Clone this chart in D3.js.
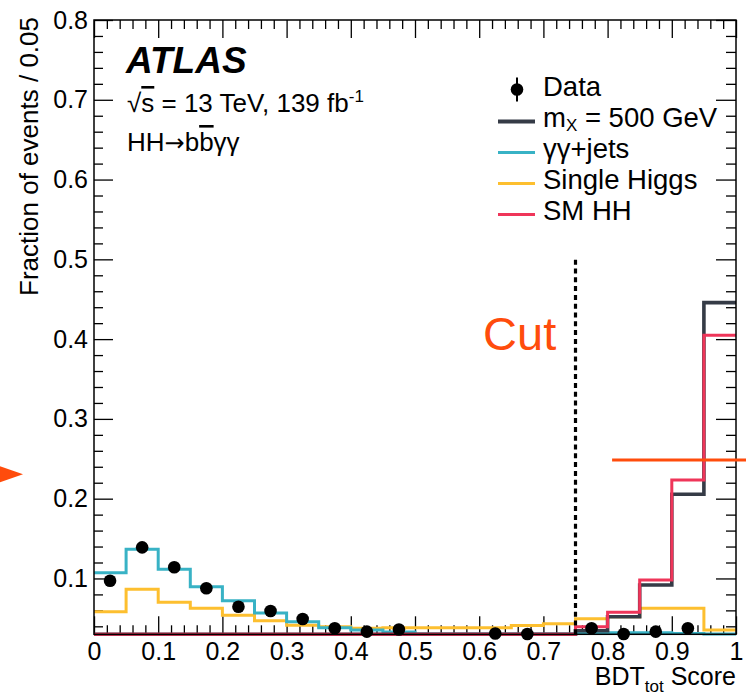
<!DOCTYPE html>
<html>
<head>
<meta charset="utf-8">
<script src="https://cdn.jsdelivr.net/npm/d3@7"></script>
<style>
  html, body { margin: 0; padding: 0; background: #fff; }
  svg { display: block; }
  text { font-family: "Liberation Sans", Arial, Helvetica, sans-serif; fill: #000; }
</style>
</head>
<body>
<svg id="chart" width="746" height="700"></svg>
<script>
// ---------------- data ----------------
const binEdges = [0, 0.05, 0.1, 0.15, 0.2, 0.25, 0.3, 0.35, 0.4, 0.45, 0.5,
                  0.55, 0.6, 0.65, 0.7, 0.75, 0.8, 0.85, 0.9, 0.95, 1.0];
const binCenters = [0.025, 0.075, 0.125, 0.175, 0.225, 0.275, 0.325, 0.375, 0.425, 0.475,
                    0.525, 0.575, 0.625, 0.675, 0.725, 0.775, 0.825, 0.875, 0.925, 0.975];
const gamgamJets = [0.107, 0.1366, 0.1115, 0.0897, 0.072, 0.0567, 0.0458, 0.0383, 0.0354, 0.033,
                    0.0305, 0.0305, 0.0305, 0.0305, 0.0305, 0.032, 0.032, 0.032, 0.031, 0.0304];
const singleHiggs = [0.0583, 0.0864, 0.0701, 0.0626, 0.0538, 0.047, 0.0413, 0.0395, 0.0375, 0.0383,
                     0.0383, 0.0383, 0.0383, 0.041, 0.0433, 0.0496, 0.052, 0.0626, 0.0626, 0.0354];
const mX500 = [0.01, 0.01, 0.01, 0.01, 0.01, 0.01, 0.01, 0.01, 0.01, 0.01,
               0.01, 0.01, 0.01, 0.01, 0.01, 0.0345, 0.052, 0.0918, 0.2055, 0.4457];
const smHH = [0.01, 0.01, 0.01, 0.01, 0.01, 0.01, 0.01, 0.01, 0.01, 0.01,
              0.01, 0.01, 0.01, 0.01, 0.01, 0.0395, 0.0576, 0.098, 0.2234, 0.405];
const dataPts = [0.0972, 0.139, 0.114, 0.0877, 0.0646, 0.0592, 0.0492, 0.0375, 0.0333, 0.036,
                 null, null, 0.031, 0.0303, null, 0.0375, 0.0304, 0.0333, 0.0375, null];
const xMajorTicks = [0, 0.1, 0.2, 0.3, 0.4, 0.5, 0.6, 0.7, 0.8, 0.9, 1.0];
const xTickLabels = ["0", "0.1", "0.2", "0.3", "0.4", "0.5", "0.6", "0.7", "0.8", "0.9", "1"];
const yMajorTicks = [0.1, 0.2, 0.3, 0.4, 0.5, 0.6, 0.7, 0.8];
const yTickLabels = ["0.1", "0.2", "0.3", "0.4", "0.5", "0.6", "0.7", "0.8"];
const cutValue = 0.75;
const cutTop = 0.5;
const markerLevel = 0.2485;
const arrowLevel = 0.2305;

// ---------------- layout ----------------
const svg = d3.select("#chart");
const L = 94, R = 736, T = 20, B = 634.3;
const x = d3.scaleLinear().domain([0, 1]).range([L, R]);
const y = d3.scaleLinear().domain([0.03, 0.8]).range([B, T]).clamp(true);

const xMinor = d3.range(0, 1.0001, 0.02).filter(v => Math.abs(v * 10 - Math.round(v * 10)) > 1e-6);
const yMinor = d3.range(0.04, 0.8001, 0.02).filter(v => Math.abs(v * 10 - Math.round(v * 10)) > 1e-6);

const COLORS = {
  mx: "#353b46", gg: "#38b2c5", sh: "#fdbf2f", hh: "#ef3559", cut: "#ff4c0c"
};

// ---------------- axes ----------------
function styleAxis(g) {
  g.select(".domain").remove();
  g.selectAll(".tick line").attr("stroke", "#000").attr("stroke-width", 1.3);
}
const fmtX = d => xTickLabels[xMajorTicks.indexOf(d)];
const fmtY = d => yTickLabels[yMajorTicks.indexOf(d)];

// bottom
svg.append("g").attr("transform", `translate(0,${B})`)
  .call(d3.axisBottom(x).tickValues(xMajorTicks).tickSize(-18).tickPadding(8).tickFormat(fmtX))
  .call(styleAxis)
  .call(g => g.selectAll("text").attr("font-size", 25).attr("font-family", "Liberation Sans, Arial, sans-serif"));
svg.append("g").attr("transform", `translate(0,${B})`)
  .call(d3.axisBottom(x).tickValues(xMinor).tickSize(-9).tickFormat(""))
  .call(styleAxis);
// top
svg.append("g").attr("transform", `translate(0,${T})`)
  .call(d3.axisTop(x).tickValues(xMajorTicks).tickSize(-18).tickFormat(""))
  .call(styleAxis);
svg.append("g").attr("transform", `translate(0,${T})`)
  .call(d3.axisTop(x).tickValues(xMinor).tickSize(-9).tickFormat(""))
  .call(styleAxis);
// left
svg.append("g").attr("transform", `translate(${L},0)`)
  .call(d3.axisLeft(y).tickValues(yMajorTicks).tickSize(-19).tickPadding(6).tickFormat(fmtY))
  .call(styleAxis)
  .call(g => g.selectAll("text").attr("font-size", 25).attr("font-family", "Liberation Sans, Arial, sans-serif"));
svg.append("g").attr("transform", `translate(${L},0)`)
  .call(d3.axisLeft(y).tickValues(yMinor).tickSize(-9).tickFormat(""))
  .call(styleAxis);
// right
svg.append("g").attr("transform", `translate(${R},0)`)
  .call(d3.axisRight(y).tickValues(yMajorTicks).tickSize(-20).tickFormat(""))
  .call(styleAxis);
svg.append("g").attr("transform", `translate(${R},0)`)
  .call(d3.axisRight(y).tickValues(yMinor).tickSize(-10).tickFormat(""))
  .call(styleAxis);

// ---------------- histograms ----------------
const step = d3.line().curve(d3.curveStepAfter).x(d => x(d[0])).y(d => y(d[1]));
function histPts(vals) {
  const pts = vals.map((v, i) => [binEdges[i], v]);
  pts.push([binEdges[binEdges.length - 1], vals[vals.length - 1]]);
  return pts;
}
const series = [
  { vals: singleHiggs, color: COLORS.sh, w: 3 },
  { vals: gamgamJets, color: COLORS.gg, w: 3 },
  { vals: mX500, color: COLORS.mx, w: 3.6 },
  { vals: smHH, color: COLORS.hh, w: 3 }
];
series.forEach(s => {
  svg.append("path").attr("d", step(histPts(s.vals)))
    .attr("fill", "none").attr("stroke", s.color).attr("stroke-width", s.w);
});

// data points
const dp = dataPts.map((v, i) => ({ x: binCenters[i], v })).filter(d => d.v !== null);
svg.append("g").selectAll("circle").data(dp).join("circle")
  .attr("cx", d => x(d.x)).attr("cy", d => y(d.v)).attr("r", 6.3).attr("fill", "#000");

// ---------------- frame ----------------
svg.append("rect").attr("x", L).attr("y", T).attr("width", R - L).attr("height", B - T)
  .attr("fill", "none").attr("stroke", "#000").attr("stroke-width", 1.5);

// cut line
svg.append("line").attr("x1", x(cutValue)).attr("x2", x(cutValue))
  .attr("y1", y(0.03)).attr("y2", y(cutTop))
  .attr("stroke", "#000").attr("stroke-width", 3.2).attr("stroke-dasharray", "5,3.8");

svg.append("text").attr("x", x(0.606)).attr("y", y(0.386))
  .attr("font-size", 47).style("fill", COLORS.cut).text("Cut");

svg.append("line").attr("x1", x(0.807)).attr("x2", 746)
  .attr("y1", y(markerLevel)).attr("y2", y(markerLevel))
  .attr("stroke", COLORS.cut).attr("stroke-width", 3.2);

svg.append("path")
  .attr("d", `M0,${y(arrowLevel) - 8}L23,${y(arrowLevel)}L0,${y(arrowLevel) + 8}Z`)
  .attr("fill", COLORS.cut);

// ---------------- labels ----------------
svg.append("text").attr("x", 126).attr("y", 73)
  .attr("font-size", 37).attr("font-weight", "bold").attr("font-style", "italic").text("ATLAS");

const t1 = svg.append("text").attr("x", 127).attr("y", 112).attr("font-size", 26);
t1.append("tspan").text("\u221A");
t1.append("tspan").style("text-decoration", "overline").text("s");
t1.append("tspan").text(" = 13 TeV, 139 fb");
t1.append("tspan").attr("font-size", 17).attr("dy", -10).text("-1");

const t2 = svg.append("text").attr("x", 127).attr("y", 151).attr("font-size", 26);
t2.append("tspan").text("HH");
t2.append("tspan").attr("font-family", "DejaVu Sans").attr("font-size", 24).text("\u2192");
t2.append("tspan").text("b");
t2.append("tspan").style("text-decoration", "overline").text("b");
t2.append("tspan").text("\u03B3\u03B3");

// y-axis title
svg.append("text").attr("transform", "translate(38,17) rotate(-90)")
  .attr("text-anchor", "end").attr("font-size", 26).text("Fraction of events / 0.05");

// x-axis title
const xt = svg.append("text").attr("x", R).attr("y", 685).attr("text-anchor", "end").attr("font-size", 25);
xt.append("tspan").text("BDT");
xt.append("tspan").attr("font-size", 17).attr("dy", 7).text("tot");
xt.append("tspan").attr("dy", -7).text(" Score");

// ---------------- legend ----------------
const legend = [
  { label: "Data", type: "data" },
  { label: "m", sub: "X", rest: " = 500 GeV", color: COLORS.mx, w: 4 },
  { label: "\u03B3\u03B3+jets", color: COLORS.gg, w: 3 },
  { label: "Single Higgs", color: COLORS.sh, w: 3 },
  { label: "SM HH", color: COLORS.hh, w: 3 }
];
const lg = svg.append("g");
legend.forEach((d, i) => {
  const base = 96 + i * 31;
  const cy = base - 6.5;
  if (d.type === "data") {
    lg.append("line").attr("x1", 517).attr("x2", 517).attr("y1", cy - 12).attr("y2", cy + 12)
      .attr("stroke", "#000").attr("stroke-width", 2);
    lg.append("circle").attr("cx", 517).attr("cy", cy).attr("r", 6.3).attr("fill", "#000");
  } else {
    lg.append("line").attr("x1", 498).attr("x2", 535).attr("y1", cy + 1).attr("y2", cy + 1)
      .attr("stroke", d.color).attr("stroke-width", d.w);
  }
  const t = lg.append("text").attr("x", 543).attr("y", base).attr("font-size", 27.5);
  t.append("tspan").text(d.label);
  if (d.sub) {
    t.append("tspan").attr("font-size", 17).attr("dy", 4).text(d.sub);
    t.append("tspan").attr("dy", -4).text(d.rest);
  }
});
</script>
</body>
</html>
